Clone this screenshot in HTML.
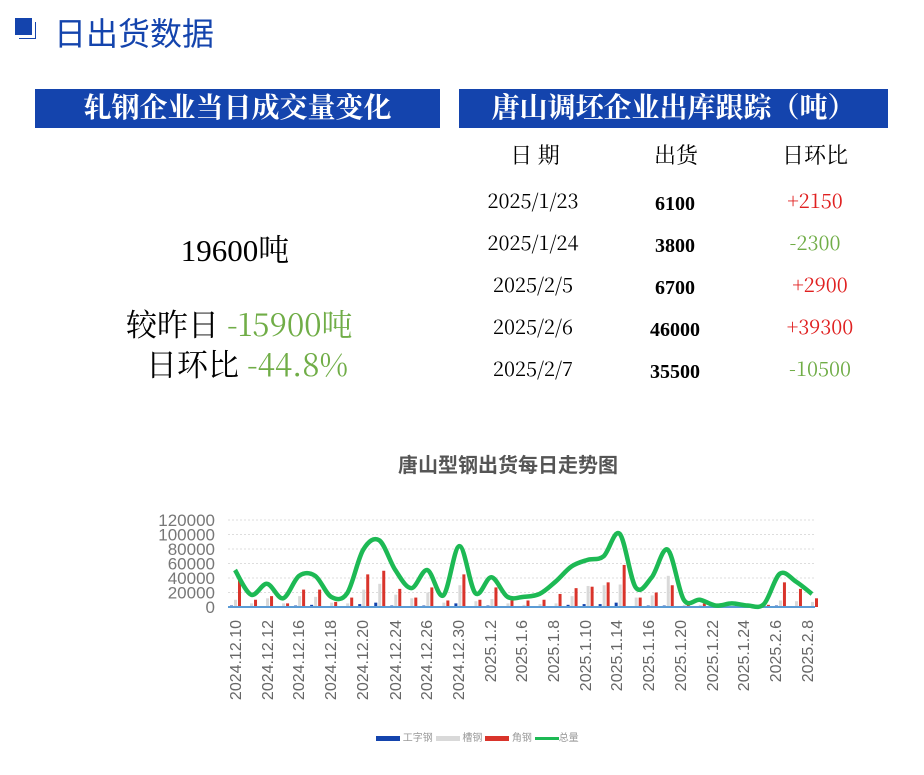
<!DOCTYPE html>
<html><head><meta charset="utf-8"><style>
body{margin:0;width:924px;height:775px;background:#fff;position:relative;overflow:hidden;font-family:"Liberation Serif","Noto Serif CJK SC",serif}
.a{position:absolute;white-space:nowrap}
.ban{position:absolute;background:#1444ad;color:#fff;font-weight:bold;font-size:28px;text-align:center;line-height:39px}
.t{position:absolute;font-size:20px;white-space:nowrap;transform:translateX(-50%)}
.n{font-family:"Noto Serif CJK SC",serif}
</style></head><body>
<div class="a" style="left:15px;top:18px;width:17px;height:17px;background:#1444ad"></div>
<div class="a" style="left:19px;top:22px;width:16px;height:16px;border-right:1px solid #1444ad;border-bottom:1px solid #1444ad"></div>
<div class="a" style="left:54px;top:9px;font-size:32px;color:#1444ad;font-family:'Noto Sans CJK SC',sans-serif">日出货数据</div>
<div class="ban" style="left:35px;top:89px;width:405px">轧钢企业当日成交量变化</div>
<div class="ban" style="left:459px;top:89px;width:429px">唐山调坯企业出库跟踪（吨）</div>
<div class="t" style="left:535px;top:139px;font-size:22px">日 期</div>
<div class="t" style="left:676px;top:139px;font-size:22px">出货</div>
<div class="t" style="left:815px;top:139px;font-size:22px">日环比</div>
<div class="t n" style="left:533px;top:185px">2025/1/23</div><div class="t" style="left:675px;top:193px;font-weight:bold">6100</div><div class="t n" style="left:815px;top:185px;color:#e02020">+2150</div>
<div class="t n" style="left:533px;top:227px">2025/1/24</div><div class="t" style="left:675px;top:235px;font-weight:bold">3800</div><div class="t n" style="left:815px;top:227px;color:#70ad47">-2300</div>
<div class="t n" style="left:533px;top:269px">2025/2/5</div><div class="t" style="left:675px;top:277px;font-weight:bold">6700</div><div class="t n" style="left:820px;top:269px;color:#e02020">+2900</div>
<div class="t n" style="left:533px;top:311px">2025/2/6</div><div class="t" style="left:675px;top:319px;font-weight:bold">46000</div><div class="t n" style="left:820px;top:311px;color:#e02020">+39300</div>
<div class="t n" style="left:533px;top:353px">2025/2/7</div><div class="t" style="left:675px;top:361px;font-weight:bold">35500</div><div class="t n" style="left:820px;top:353px;color:#70ad47">-10500</div>
<div class="t" style="left:235px;top:225px;font-size:31px">19600吨</div>
<div class="a n" style="left:126px;top:300px;font-size:31px">较昨日 <span style="color:#70ad47">-15900吨</span></div>
<div class="a n" style="left:146px;top:340px;font-size:31px">日环比 <span style="color:#70ad47">-44.8%</span></div>
<div class="a" style="left:0;width:1016px;top:449px;text-align:center;font-size:20px;color:#555;font-weight:bold;font-family:'Liberation Sans','Noto Sans CJK SC',sans-serif">唐山型钢出货每日走势图</div>
<svg id="c" class="a" style="left:0;top:0" width="924" height="775"></svg>
<div class="a" style="left:376px;top:729px;font-size:10px;color:#999;font-family:'Liberation Sans','Noto Sans CJK SC',sans-serif">
<span style="display:inline-block;width:24px;height:5px;background:#1444ad;vertical-align:middle"></span> 工字钢
<span style="display:inline-block;width:24px;height:5px;background:#d9d9d9;vertical-align:middle"></span> 槽钢
<span style="display:inline-block;width:24px;height:5px;background:#d9342b;vertical-align:middle"></span> 角钢
<span style="display:inline-block;width:24px;height:3px;background:#1db954;vertical-align:middle"></span>总量</div>
<script>
var L=[51,17,32,12,43,43,14,19,79,92,51,26,51,16,84,19,41,14,14,18,35,56,65,70,101,27,41,79,10,10,2,5,2,4,46,35,18];
var R=[40,10,15,5,24,24,7,13,45,50,25,13,27,9,45,10,27,9,9,10,18,26,28,34,58,13,20,30,5,5,1,3,1,3,34,25,12];
var G=[10,5,12,5,15,14,6,5,24,32,17,12,20,6,30,8,11,5,3,4,5,15,29,30,31,13,16,43,3,3,1,1,1,1,9,8,7];
var B=[2,0,0,0,2,3,0,0,4,6,2,0,2,0,5,0,2,0,0,0,0,3,4,4,6,0,2,2,0,0,0,0,0,0,2,0,0];
var x0=235,dx=(812-235)/36,y0=607,k=87/120;
function X(i){return x0+i*dx}function Y(v){return y0-v*k}
var s='';
for(var j=0;j<=6;j++){var y=Y(j*20);s+='<line x1="228" x2="815" y1="'+y+'" y2="'+y+'" stroke="#ddd" stroke-dasharray="2,2"/>';
s+='<text x="215" y="'+(y+6)+'" text-anchor="end" font-size="17" fill="#777" font-family="Liberation Sans">'+(j*20000)+'</text>';}
for(var i=0;i<37;i++){var x=X(i);
s+='<rect x="'+(x-5)+'" y="'+Y(B[i])+'" width="3" height="'+(B[i]*k)+'" fill="#1444ad"/>';
s+='<rect x="'+(x-1)+'" y="'+Y(G[i])+'" width="3" height="'+(G[i]*k)+'" fill="#d9d9d9"/>';
s+='<rect x="'+(x+3)+'" y="'+Y(R[i])+'" width="3" height="'+(R[i]*k)+'" fill="#d9342b"/>';}
s+='<line x1="228" x2="815" y1="607" y2="607" stroke="#5b9bd5" stroke-width="2"/>';
var P=L.map(function(v,i){return [X(i),Y(v)]});var d='M'+P[0][0]+','+P[0][1];
for(var i=0;i<P.length-1;i++){var p0=P[i-1]||P[i],p1=P[i],p2=P[i+1],p3=P[i+2]||p2;
d+=' C'+(p1[0]+(p2[0]-p0[0])/6)+','+(p1[1]+(p2[1]-p0[1])/6)+' '+(p2[0]-(p3[0]-p1[0])/6)+','+(p2[1]-(p3[1]-p1[1])/6)+' '+p2[0]+','+p2[1];}
s+='<path d="'+d+'" fill="none" stroke="#1db954" stroke-width="4.5"/>';
var lx=[235,267,298,330,362,395,426,458,490,521,553,585,616,648,680,712,743,775,807];
var lt=['2024.12.10','2024.12.12','2024.12.16','2024.12.18','2024.12.20','2024.12.24','2024.12.26','2024.12.30','2025.1.2','2025.1.6','2025.1.8','2025.1.10','2025.1.14','2025.1.16','2025.1.20','2025.1.22','2025.1.24','2025.2.6','2025.2.8'];
for(var i=0;i<19;i++)s+='<text transform="translate('+(lx[i]+6)+',620) rotate(-90)" text-anchor="end" font-size="16" fill="#666" font-family="Liberation Sans">'+lt[i]+'</text>';
document.getElementById('c').innerHTML=s;
</script>
</body></html>
